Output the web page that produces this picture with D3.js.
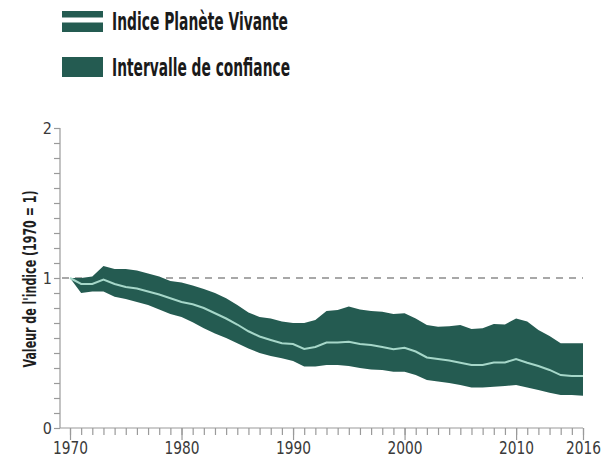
<!DOCTYPE html>
<html><head><meta charset="utf-8">
<script src="https://cdn.jsdelivr.net/npm/d3@7"></script>
<style>
html,body{margin:0;padding:0;background:#fff;}
svg{display:block;}
</style></head>
<body>
<svg id="chart" width="605" height="463"></svg>
<script>
const years = d3.range(1970, 2017);
const indexValues = [1.00,0.96,0.96,0.99,0.96,0.94,0.93,0.91,0.89,0.865,0.84,0.825,0.80,0.765,0.73,0.69,0.645,0.61,0.587,0.565,0.56,0.527,0.54,0.57,0.57,0.575,0.56,0.553,0.54,0.525,0.535,0.51,0.47,0.46,0.45,0.435,0.42,0.42,0.437,0.437,0.46,0.435,0.413,0.387,0.353,0.347,0.347];
const upperValues = [1.00,1.00,1.01,1.08,1.06,1.06,1.05,1.03,1.01,0.98,0.97,0.95,0.927,0.90,0.865,0.82,0.77,0.74,0.73,0.71,0.70,0.70,0.72,0.78,0.787,0.81,0.79,0.78,0.775,0.76,0.765,0.73,0.687,0.675,0.678,0.687,0.66,0.665,0.693,0.69,0.73,0.71,0.653,0.613,0.565,0.565,0.565];
const lowerValues = [1.00,0.90,0.91,0.91,0.875,0.86,0.84,0.82,0.79,0.76,0.74,0.705,0.665,0.63,0.60,0.565,0.53,0.50,0.48,0.465,0.447,0.41,0.41,0.42,0.42,0.413,0.40,0.39,0.387,0.375,0.375,0.353,0.32,0.31,0.30,0.287,0.27,0.27,0.275,0.28,0.287,0.27,0.253,0.235,0.22,0.22,0.215];
const xTickLabels = [1970,1980,1990,2000,2010,2016];
const yTickLabels = [0,1,2];
const legendLabels = ["Indice Planète Vivante","Intervalle de confiance"];
const yTitle = "Valeur de l'indice (1970 = 1)";

const data = years.map((y,i)=>({year:y, v:indexValues[i], lo:lowerValues[i], hi:upperValues[i]}));

const svg = d3.select("#chart");
const x = d3.scaleLinear().domain([1970,2016]).range([70,583]);
const y = d3.scaleLinear().domain([0,2]).range([428,128]);

const bandColor = "#245b51";
const lineColor = "#a6d7c9";
const axisColor = "#9a9a9a";
const condensed = "'Liberation Sans Narrow','DejaVu Sans Condensed','Roboto',sans-serif";
const tickFont = "'DejaVu Sans Condensed',Lato,sans-serif";

// Y axis
const yAxis = d3.axisLeft(y).tickValues(d3.range(0,2.0001,0.1)).tickSize(6).tickFormat(d => {
  const r = Math.round(d*10)/10; return yTickLabels.includes(r) ? String(r) : "";
});
const gy = svg.append("g").attr("transform","translate(60,0)").call(yAxis);
gy.select(".domain").attr("stroke",axisColor).attr("stroke-width",1.2).attr("d","M0,128V428");
gy.selectAll(".tick line").attr("stroke",axisColor).attr("stroke-width",1.2);
gy.selectAll(".tick text").attr("fill","#3a3a3a").attr("font-family",tickFont).attr("font-size",16).attr("x",-8).attr("dy","0.36em");

// X axis
const xAxisMinor = d3.axisBottom(x).tickValues(years).tickSize(7).tickFormat("");
const gxm = svg.append("g").attr("transform","translate(0,428)").call(xAxisMinor);
gxm.select(".domain").attr("stroke",axisColor).attr("stroke-width",1.2).attr("d","M60,0H583");
gxm.selectAll(".tick line").attr("stroke",axisColor).attr("stroke-width",1.2);
const xAxisMajor = d3.axisBottom(x).tickValues(xTickLabels).tickSize(12).tickFormat(d3.format("d"));
const gx = svg.append("g").attr("transform","translate(0,428)").call(xAxisMajor);
gx.select(".domain").remove();
gx.selectAll(".tick line").attr("stroke",axisColor).attr("stroke-width",1.2);
gx.selectAll(".tick text").attr("fill","#3a3a3a").attr("font-family",tickFont).attr("font-size",17)
  .attr("y",14).attr("dy","0.71em").attr("textLength",35).attr("lengthAdjust","spacingAndGlyphs");

// Reference line at 1
svg.append("line").attr("x1",62).attr("x2",x(2016)).attr("y1",y(1)).attr("y2",y(1))
  .attr("stroke","#8c8c8c").attr("stroke-width",1.3).attr("stroke-dasharray","7,6");

// Band
const area = d3.area().x(d=>x(d.year)).y0(d=>y(d.lo)).y1(d=>y(d.hi));
svg.append("path").datum(data).attr("d",area).attr("fill",bandColor);
// Index line
const line = d3.line().x(d=>x(d.year)).y(d=>y(d.v));
svg.append("path").datum(data).attr("d",line).attr("fill","none").attr("stroke",lineColor).attr("stroke-width",2);

// Y title
svg.append("text").attr("transform","translate(36,279) rotate(-90)").attr("text-anchor","middle")
  .attr("font-family",condensed).attr("font-weight","bold").attr("font-size",17).attr("fill","#1e1e1e")
  .attr("textLength",177).attr("lengthAdjust","spacingAndGlyphs").text(yTitle);

// Legend
const lg = svg.append("g");
lg.append("rect").attr("x",62).attr("y",11).attr("width",41).attr("height",21).attr("fill",bandColor);
lg.append("rect").attr("x",62).attr("y",17.5).attr("width",41).attr("height",5).attr("fill","#ffffff");
lg.append("rect").attr("x",62).attr("y",57).attr("width",41).attr("height",20).attr("fill",bandColor);
lg.append("text").attr("x",112).attr("y",30).attr("font-family",condensed).attr("font-weight","bold")
  .attr("font-size",24).attr("fill","#1a1a1a").attr("textLength",176).attr("lengthAdjust","spacingAndGlyphs").text(legendLabels[0]);
lg.append("text").attr("x",112).attr("y",76).attr("font-family",condensed).attr("font-weight","bold")
  .attr("font-size",24).attr("fill","#1a1a1a").attr("textLength",178).attr("lengthAdjust","spacingAndGlyphs").text(legendLabels[1]);
</script>
</body></html>
